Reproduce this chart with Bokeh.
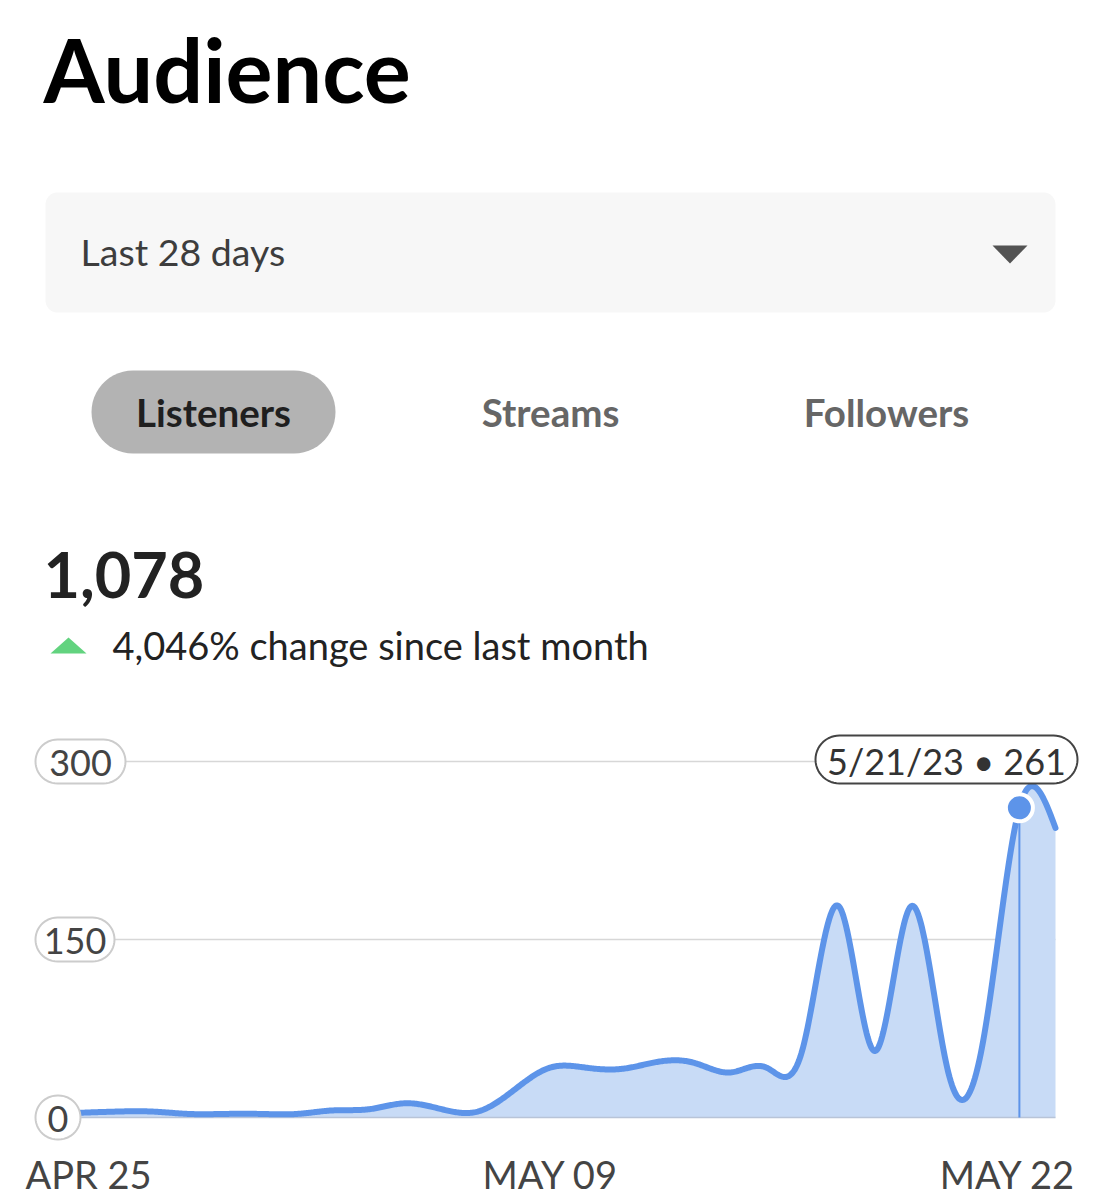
import datetime
import numpy as np
from bokeh.plotting import figure
from bokeh.models import Range1d
from bokeh.core.properties import value
from bokeh.embed import file_html
from bokeh.resources import INLINE

# ---------------- data ----------------
start_date = datetime.date(2023, 4, 25)
listeners = [4, 5, 5, 3, 3, 3, 3, 6, 7, 12, 7, 5, 23, 42, 42, 41, 47, 46,
             38, 42, 58, 178, 56, 178, 42, 65, 261, 244]
dates = [start_date + datetime.timedelta(days=i) for i in range(len(listeners))]
days = list(range(len(listeners)))
y_ticks = [0, 150, 300]
x_tick_idx = [0, 14, 27]
x_tick_labels = [d.strftime("%b %d").upper() for d in (dates[i] for i in x_tick_idx)]
highlight_idx = 26
total_listeners = "1,078"
change_text = "4,046% change since last month"
tabs = ["Listeners", "Streams", "Followers"]
period = "Last 28 days"
title = "Audience"

# ---------------- scales (pixel helpers for decoration) ----------------
SX = (1055 - 80) / 27.0
SY = 178 / 150.0
def X(px):
    return (px - 80) / SX
def Y(py):
    return (1117 - py) / SY

p = figure(width=1100, height=1200, x_range=Range1d(X(0), X(1100)),
           y_range=Range1d(Y(1200), Y(0)), output_backend="svg",
           toolbar_location=None, min_border=0,
           x_axis_location=None, y_axis_location=None)
p.grid.visible = False
p.outline_line_color = None
p.background_fill_color = "white"
p.border_fill_color = "white"

FONT = value("Lato")
BLUE = "#5d94e9"

def pill(x0, y0, x1, y1, r):
    xs, ys = [], []
    for cx, cy, a0 in [(x1 - r, y0 + r, -90), (x1 - r, y1 - r, 0),
                       (x0 + r, y1 - r, 90), (x0 + r, y0 + r, 180)]:
        for a in np.linspace(a0, a0 + 90, 14):
            xs.append(X(cx + r * np.cos(np.radians(a))))
            ys.append(Y(cy + r * np.sin(np.radians(a))))
    return xs, ys

def txt(px, py, s, size, color, bold=False, align="left", baseline="middle"):
    p.text(x=[X(px)], y=[Y(py)], text=[s], text_font=FONT,
           text_font_size=f"{size}px", text_color=color, text_align=align,
           text_baseline=baseline, text_font_style="bold" if bold else "normal")

# ---------------- header ----------------
txt(43, 68, title, 88, "#000000", bold=True)

xs, ys = pill(45, 192, 1055, 312, 12)
p.patch(xs, ys, fill_color="#f7f7f7", line_color=None)
txt(80, 251, period, 37.5, "#3d3d3d")
p.patch([X(992), X(1027), X(1009.5)], [Y(245), Y(245), Y(263)],
        fill_color="#535353", line_color=None)

xs, ys = pill(91, 370, 335, 453, 41.5)
p.patch(xs, ys, fill_color="#b3b3b3", line_color=None)
for cx, t, col in zip([213, 550, 886], tabs, ["#1f1f1f", "#666666", "#666666"]):
    txt(cx, 411, t, 38.5, col, bold=True, align="center")

txt(43, 574, total_listeners, 63, "#222222", bold=True)
p.patch([X(50), X(86), X(68)], [Y(653), Y(653), Y(637)],
        fill_color="#62d37f", line_color=None)
txt(112, 644, change_text, 38, "#222222")

# ---------------- chart ----------------
y = np.array(listeners, dtype=float)
n = len(y)
A = np.zeros((n, n)); rhs = np.zeros(n)
A[0, 0] = 1; A[-1, -1] = 1
for i in range(1, n - 1):
    A[i, i - 1] = 1; A[i, i] = 4; A[i, i + 1] = 1
    rhs[i] = 6 * (y[i + 1] - 2 * y[i] + y[i - 1])
M = np.linalg.solve(A, rhs)
cx, cy = [], []
for i in range(n - 1):
    for t in np.linspace(0, 1, 30, endpoint=False):
        cx.append(days[i] + t)
        cy.append((1 - t) * y[i] + t * y[i + 1]
                  + ((1 - t) ** 3 - (1 - t)) * M[i] / 6 + (t ** 3 - t) * M[i + 1] / 6)
cx.append(days[-1]); cy.append(y[-1])

# grid lines (start right of the label pills)
pill_w = {0: 45, 150: 79, 300: 90}
for tv in y_ticks[1:]:
    p.segment(x0=[X(35 + pill_w[tv])], y0=[tv], x1=[days[-1]], y1=[tv],
              line_color="#d7d7d7", line_width=1.5)

p.varea(x=cx, y1=[0] * len(cx), y2=cy, fill_color="#c8dbf6")
p.segment(x0=[days[0]], y0=[0], x1=[days[-1]], y1=[0], line_color="#b8c4d8", line_width=1.5)
p.line(cx, cy, line_color=BLUE, line_width=6, line_join="round", line_cap="round")

hx, hy = days[highlight_idx], listeners[highlight_idx]
p.segment(x0=[hx], y0=[0], x1=[hx], y1=[hy], line_color=BLUE, line_width=2)
p.scatter(x=[hx], y=[hy], size=27, fill_color=BLUE, line_color="white", line_width=4)

# y tick pills
for tv in y_ticks:
    w = pill_w[tv]
    x0 = 35
    py = 1117 - tv * SY
    xs, ys = pill(x0, py - 22, x0 + w, py + 22, 22)
    p.patch(xs, ys, fill_color="white", line_color="#cccccc", line_width=2)
    txt(x0 + w / 2, py + 1, str(tv), 36, "#444444", align="center")

# tooltip
d = dates[highlight_idx]
tip = f"{d.month}/{d.day}/{d.year % 100} \u2022 {hy}"
xs, ys = pill(815, 735, 1077, 783, 24)
p.patch(xs, ys, fill_color="white", line_color="#444444", line_width=2)
txt(946, 760, tip, 36, "#333333", align="center")

# x labels
for (px, al), lab in zip([(25, "left"), (550, "center"), (1075, "right")], x_tick_labels):
    txt(px, 1173, lab, 38, "#444444", align=al)

open("out.html", "w").write(file_html(p, INLINE))
